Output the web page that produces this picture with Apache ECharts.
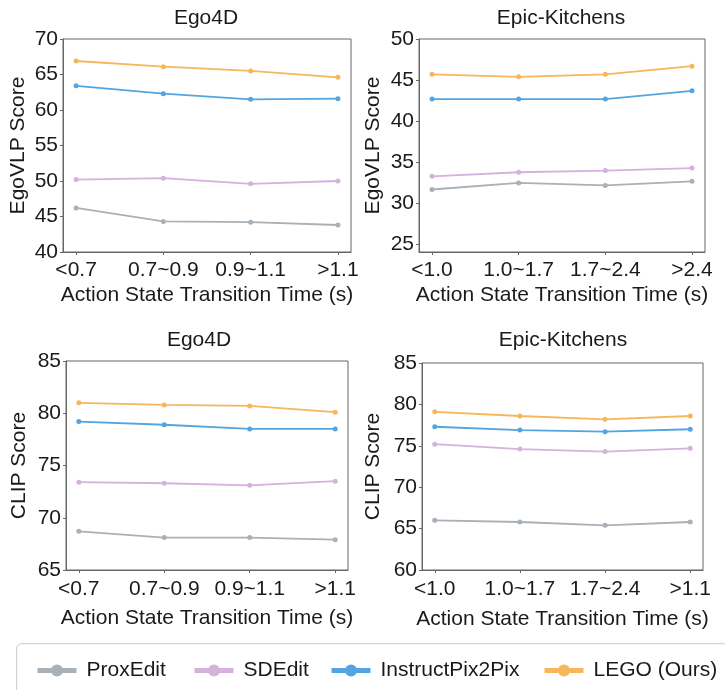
<!DOCTYPE html>
<html lang="en">
<head>
    <meta charset="UTF-8">
    <title>LEGO transition time</title>
    <script src="https://cdn.jsdelivr.net/npm/echarts@6/dist/echarts.min.js" type="text/javascript"></script>
</head>
<body style="margin:0">
<style>
    html, body {
        width: 725px;
        height: 690px;
        background: #fff;
    }

    #main {
        width: 725px;
        height: 690px;
    }
</style>
<div id="main"></div>
<script type="text/javascript">
    // categories
    var ego4dCats = ['<0.7', '0.7~0.9', '0.9~1.1', '>1.1']
    var epicCats = ['<1.0', '1.0~1.7', '1.7~2.4', '>2.4']
    var epicClipCats = ['<1.0', '1.0~1.7', '1.7~2.4', '>1.1']
    var methods = ['ProxEdit', 'SDEdit', 'InstructPix2Pix', 'LEGO (Ours)']

    // EgoVLP score, Ego4D
    var vlpEgoProx = [46.2, 44.3, 44.2, 43.8]
    var vlpEgoSd = [50.2, 50.4, 49.6, 50.0]
    var vlpEgoIp2p = [63.4, 62.3, 61.5, 61.6]
    var vlpEgoLego = [66.9, 66.1, 65.5, 64.6]

    // EgoVLP score, Epic-Kitchens
    var vlpEpicProx = [31.7, 32.5, 32.2, 32.7]
    var vlpEpicSd = [33.3, 33.8, 34.0, 34.3]
    var vlpEpicIp2p = [42.7, 42.7, 42.7, 43.7]
    var vlpEpicLego = [45.7, 45.4, 45.7, 46.7]

    // CLIP score, Ego4D
    var clipEgoProx = [68.7, 68.1, 68.1, 67.9]
    var clipEgoSd = [73.4, 73.3, 73.1, 73.5]
    var clipEgoIp2p = [79.2, 78.9, 78.5, 78.5]
    var clipEgoLego = [81.0, 80.8, 80.7, 80.1]

    // CLIP score, Epic-Kitchens
    var clipEpicProx = [66.0, 65.8, 65.4, 65.8]
    var clipEpicSd = [75.2, 74.6, 74.3, 74.7]
    var clipEpicIp2p = [77.3, 76.9, 76.7, 77.0]
    var clipEpicLego = [79.1, 78.6, 78.2, 78.6]

    // y tick labels
    var ticksVlpEgo = [40, 45, 50, 55, 60, 65, 70]
    var ticksVlpEpic = [25, 30, 35, 40, 45, 50]
    var ticksClipEgo = [65, 70, 75, 80, 85]
    var ticksClipEpic = [60, 65, 70, 75, 80, 85]

    var colors = ['#a8b0b8', '#d5b1dd', '#52a5e0', '#f5b75a']
    var font = "'Liberation Sans', Arial, sans-serif"
    var ink = '#1a1a1a'

    var panels = [
        {title: 'Ego4D', yName: 'EgoVLP Score', cats: ego4dCats, ticks: ticksVlpEgo, min: 40, max: 70,
            data: [vlpEgoProx, vlpEgoSd, vlpEgoIp2p, vlpEgoLego],
            grid: {left: 63, top: 39, width: 288, height: 213}, titleX: 201, titleY: 3, yGap: 34, xGap: 33, lblMargin: 8},
        {title: 'Epic-Kitchens', yName: 'EgoVLP Score', cats: epicCats, ticks: ticksVlpEpic, min: 24.1, max: 50,
            data: [vlpEpicProx, vlpEpicSd, vlpEpicIp2p, vlpEpicLego],
            grid: {left: 419, top: 39, width: 286, height: 213}, titleX: 556, titleY: 3, yGap: 35, xGap: 33, lblMargin: 8},
        {title: 'Ego4D', yName: 'CLIP Score', cats: ego4dCats, ticks: ticksClipEgo, min: 65, max: 85,
            data: [clipEgoProx, clipEgoSd, clipEgoIp2p, clipEgoLego],
            grid: {left: 66, top: 361, width: 282, height: 209}, titleX: 194, titleY: 325, yGap: 36, xGap: 38, lblMargin: 9},
        {title: 'Epic-Kitchens', yName: 'CLIP Score', cats: epicClipCats, ticks: ticksClipEpic, min: 60, max: 85,
            data: [clipEpicProx, clipEpicSd, clipEpicIp2p, clipEpicLego],
            grid: {left: 422, top: 363, width: 281, height: 207}, titleX: 558, titleY: 325, yGap: 38, xGap: 39, lblMargin: 9}
    ]

    var option = {
        animation: false,
        backgroundColor: '#fff',
        textStyle: {fontFamily: font},
        title: [],
        grid: [],
        xAxis: [],
        yAxis: [],
        series: [],
        legend: [],
        graphic: [{
            type: 'rect',
            left: 16,
            top: 643,
            shape: {width: 730, height: 60, r: 5},
            style: {fill: '#fff', stroke: '#d4d4d4', lineWidth: 1.2},
            z: -1
        }]
    }

    panels.forEach(function (p, i) {
        option.title.push({
            text: p.title,
            left: p.titleX,
            top: p.titleY,
            textAlign: 'center',
            textStyle: {fontFamily: font, fontSize: 21, fontWeight: 'normal', color: ink}
        })
        option.grid.push(Object.assign({show: true, borderColor: '#666', borderWidth: 1, containLabel: false}, p.grid))
        option.xAxis.push({
            type: 'value',
            gridIndex: i,
            min: -0.15,
            max: 3.15,
            splitLine: {show: false},
            axisLine: {onZero: false, lineStyle: {color: '#666', width: 1}},
            axisTick: {show: true, length: 3, lineStyle: {color: '#666'}, customValues: [0, 1, 2, 3]},
            axisLabel: {
                customValues: [0, 1, 2, 3],
                margin: p.lblMargin,
                fontSize: 21,
                color: ink,
                fontFamily: font,
                formatter: function (v) {
                    return p.cats[Math.round(v)]
                }
            },
            name: 'Action State Transition Time (s)',
            nameLocation: 'middle',
            nameGap: p.xGap,
            nameTextStyle: {fontSize: 21, color: ink, fontFamily: font}
        })
        option.yAxis.push({
            type: 'value',
            gridIndex: i,
            min: p.min,
            max: p.max,
            splitLine: {show: false},
            axisLine: {show: true, onZero: false, lineStyle: {color: '#666', width: 1}},
            axisTick: {show: true, length: 3, lineStyle: {color: '#666'}, customValues: p.ticks},
            axisLabel: {customValues: p.ticks, margin: 5, fontSize: 21, color: ink, fontFamily: font},
            name: p.yName,
            nameLocation: 'middle',
            nameGap: p.yGap,
            nameTextStyle: {fontSize: 21, color: ink, fontFamily: font}
        })
        p.data.forEach(function (vals, k) {
            option.series.push({
                name: methods[k],
                type: 'line',
                xAxisIndex: i,
                yAxisIndex: i,
                data: vals.map(function (v, j) {
                    return [j, v]
                }),
                symbol: 'circle',
                symbolSize: 5,
                showSymbol: true,
                color: colors[k],
                lineStyle: {width: 1.8, color: colors[k]},
                itemStyle: {color: colors[k]},
                z: 2 + k
            })
        })
    })

    // one legend per item so each sits where the reference puts it
    var legendLeft = [35, 192, 329, 542]
    methods.forEach(function (m, k) {
        option.legend.push({
            data: [m],
            left: legendLeft[k] - 5,
            top: 655,
            itemWidth: 39,
            itemHeight: 15,
            lineStyle: {width: 5},
            textStyle: {fontSize: 21, color: ink, fontFamily: font, padding: [0, 0, 0, 5]}
        })
    })

    var myChart = echarts.init(document.getElementById('main'), null, {renderer: 'canvas'})
    myChart.setOption(option)
</script>
</body>
</html>
